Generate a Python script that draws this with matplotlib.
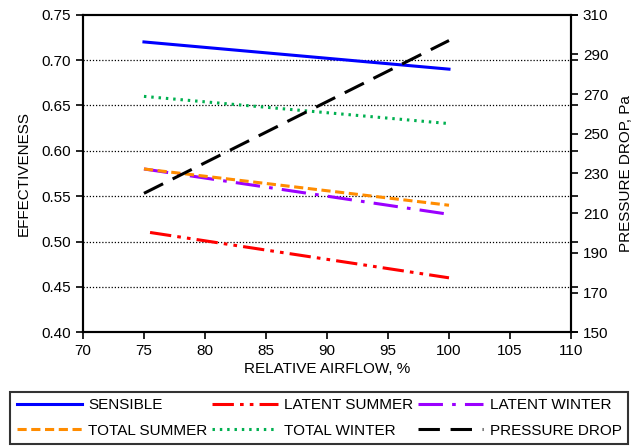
import matplotlib
matplotlib.use("Agg")
import matplotlib.pyplot as plt

plt.rcParams['font.family'] = ['Liberation Sans', 'DejaVu Sans']
plt.rcParams['font.size'] = 11

airflow = [75, 100]
sensible = [0.72, 0.69]
latent_summer_x = [75.5, 100]
latent_summer = [0.51, 0.46]
latent_winter = [0.58, 0.53]
total_summer = [0.58, 0.54]
total_winter = [0.66, 0.63]
pressure_drop = [220, 297]

fig = plt.figure(figsize=(6.38, 4.46), dpi=100)
ax = fig.add_axes([0.13, 0.255, 0.765, 0.712])
ax2 = ax.twinx()

l1, = ax.plot(airflow, sensible, color='#0000ff', lw=2.2, label='SENSIBLE')
l2, = ax.plot(latent_summer_x, latent_summer, color='#ff0000', lw=2.2,
              dashes=[7, 2, 1.2, 2, 1.2, 2], label='LATENT SUMMER')
l3, = ax.plot(airflow, latent_winter, color='#9b00ff', lw=2.2,
              dashes=[8, 3, 1.2, 3], label='LATENT WINTER')
l4, = ax.plot(airflow, total_summer, color='#ff8c00', lw=2.2,
              dashes=[3, 1.5], label='TOTAL SUMMER')
l5, = ax.plot(airflow, total_winter, color='#00b050', lw=2.2,
              dashes=[0.8, 1.6], label='TOTAL WINTER')
l6, = ax2.plot(airflow, pressure_drop, color='black', lw=2.2,
               dashes=[7, 3.5], label='PRESSURE DROP')

ax.set_xlim(70, 110)
ax.set_ylim(0.40, 0.75)
ax.set_xticks(range(70, 111, 5))
ax.set_yticks([0.40, 0.45, 0.50, 0.55, 0.60, 0.65, 0.70, 0.75])
ax.set_yticklabels(['0.40', '0.45', '0.50', '0.55', '0.60', '0.65', '0.70', '0.75'])
ax2.set_ylim(150, 310)
ax2.set_yticks(range(150, 311, 20))

for yv in [0.45, 0.50, 0.55, 0.60, 0.65, 0.70]:
    ax.axhline(yv, color='black', lw=0.9, ls=(0, (1, 1.5)), zorder=0)

ax.tick_params(axis='y', direction='out', left=True, right=True, length=5, width=1.2)
ax.tick_params(axis='x', direction='out', length=5, width=1.2)
ax2.tick_params(axis='y', direction='out', length=5, width=1.2)
for a in (ax, ax2):
    for s in a.spines.values():
        s.set_linewidth(1.5)

ax.set_xlabel('RELATIVE AIRFLOW, %', labelpad=3)
ax.set_ylabel('EFFECTIVENESS', labelpad=8)
ax2.set_ylabel('PRESSURE DROP, Pa', labelpad=8)

handles = [l1, l4, l2, l5, l3, l6]
leg = fig.legend(handles, [h.get_label() for h in handles], ncol=3,
                 loc='lower center', bbox_to_anchor=(0.5, -0.012), frameon=True,
                 fancybox=False, edgecolor='black', handlelength=4.3,
                 columnspacing=0.3, handletextpad=0.4, borderpad=0.4,
                 labelspacing=0.75, fontsize=11)
leg.get_frame().set_linewidth(1.5)

fig.savefig('out.png', dpi=100)
